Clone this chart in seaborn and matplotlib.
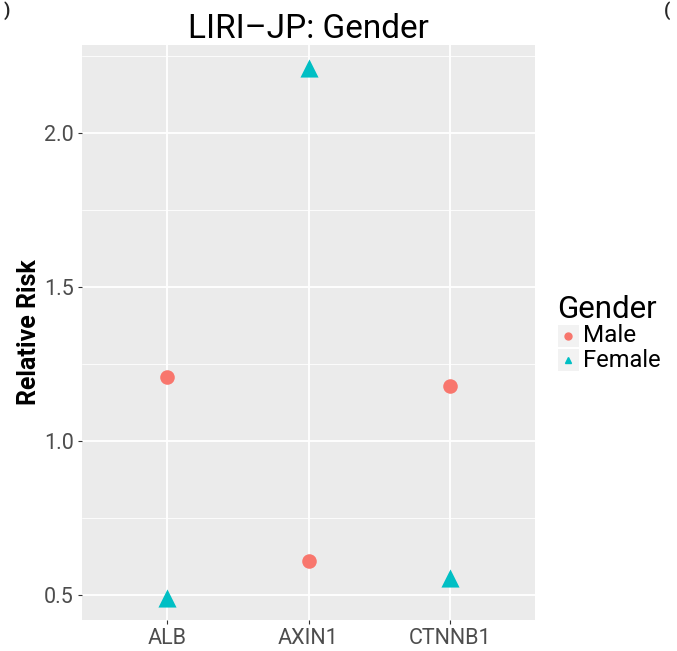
import matplotlib
matplotlib.use("Agg")
import matplotlib.pyplot as plt
from matplotlib.patches import Rectangle
from matplotlib.lines import Line2D
import seaborn as sns
import pandas as pd

genes = ["ALB", "AXIN1", "CTNNB1"]
male_rr = [1.21, 0.61, 1.18]
female_rr = [0.49, 2.21, 0.555]
genders = ["Male", "Female"]
colors = {"Male": "#F8766D", "Female": "#00BFC4"}
yticks = [0.5, 1.0, 1.5, 2.0]
minor_ticks = [0.75, 1.25, 1.75, 2.25]

df = pd.DataFrame({
    "Gene": genes * 2,
    "Relative Risk": male_rr + female_rr,
    "Gender": ["Male"] * 3 + ["Female"] * 3,
})

sns.set_theme(style="white")
plt.rcParams["font.family"] = ["Roboto", "DejaVu Sans"]

fig = plt.figure(figsize=(6.77, 6.51), dpi=100)
ax = fig.add_axes([82/677, 1-620/651, (535-82)/677, (620-45)/651])
ax.set_facecolor("#EBEBEB")

xpos = {g: i for i, g in enumerate(genes)}
df["x"] = df["Gene"].map(xpos)

sns.scatterplot(data=df[df.Gender == "Male"], x="x", y="Relative Risk",
                color=colors["Male"], marker="o", s=110, linewidth=0,
                ax=ax, legend=False, zorder=3)
sns.scatterplot(data=df[df.Gender == "Female"], x="x", y="Relative Risk",
                color=colors["Female"], marker="^", s=170, linewidth=0,
                ax=ax, legend=False, zorder=3)

ax.set_xlim(-0.6, 2.6)
ax.set_ylim(0.42, 2.286)
ax.set_xticks(range(len(genes)))
ax.set_xticklabels(genes)
ax.set_yticks(yticks)
ax.set_yticklabels([f"{v:.1f}" for v in yticks])
ax.set_yticks(minor_ticks, minor=True)
ax.grid(True, which="major", color="white", linewidth=1.3)
ax.grid(True, which="minor", axis="y", color="white", linewidth=0.6)
ax.set_axisbelow(True)
for sp in ax.spines.values():
    sp.set_visible(False)
ax.tick_params(axis="both", which="major", length=3, width=0.8, color="#333333",
               labelsize=15.5, labelcolor="#4D4D4D", pad=3, bottom=True, left=True)
ax.tick_params(axis="y", which="minor", length=0)
ax.set_xlabel("")
ax.set_ylabel("Relative Risk", fontsize=18, fontweight="bold", color="black", labelpad=2)
ax.set_title("LIRI\u2013JP: Gender", fontsize=24, color="black", pad=5)

# legend (ggplot style)
fig.text(557/677, 1-310/651, "Gender", fontsize=22.5, color="black", ha="left", va="center")
for i, g in enumerate(genders):
    yc = 336 + i * 24
    fig.patches.append(Rectangle(((558)/677, 1-(yc+11)/651), 21/677, 22/651,
                                 transform=fig.transFigure, facecolor="#F2F2F2",
                                 edgecolor="none"))
    fig.lines.append(Line2D([568/677], [1-yc/651], transform=fig.transFigure,
                            marker="o" if g == "Male" else "^", markersize=5,
                            color=colors[g], linestyle="none"))
    fig.text(583/677, 1-yc/651, g, fontsize=17.5 if g == "Male" else 17,
             color="black", ha="left", va="center")

# fragments of neighbouring panel labels
fig.text(4/677, 1-1/651, ")", fontsize=13, fontweight="bold", ha="left", va="top")
fig.text(664/677, 1-1/651, "(", fontsize=13, fontweight="bold", ha="left", va="top")

fig.savefig("out.png", dpi=100)
